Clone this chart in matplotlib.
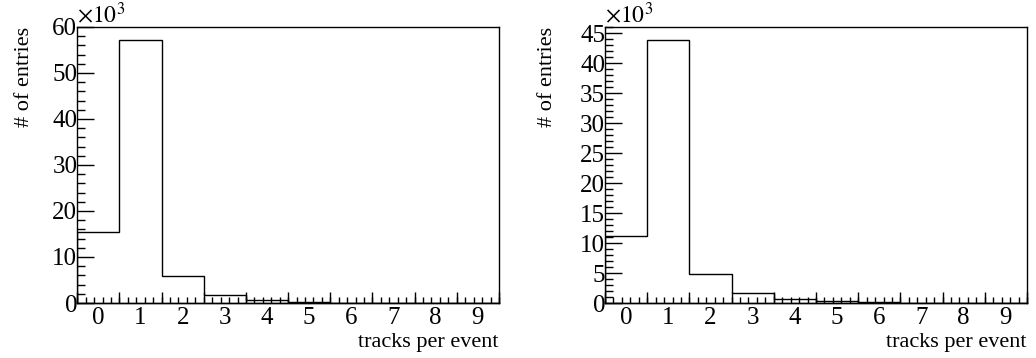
import numpy as np
import matplotlib
matplotlib.use("Agg")
import matplotlib.pyplot as plt
from matplotlib.ticker import FixedLocator, MultipleLocator

plt.rcParams['font.family'] = ['Liberation Serif', 'DejaVu Serif']
plt.rcParams['mathtext.fontset'] = 'stix'

# track multiplicity histograms, bins 0..9
bins = list(range(10))
counts_a = [15500, 57200, 5900, 1800, 700, 300, 90, 30, 10, 4]
counts_b = [11200, 43900, 4800, 1700, 650, 280, 90, 30, 10, 4]
y_major = [10, 5]
y_minor = [2, 1]

TICK_FS = 18
TITLE_FS = 16


def draw_hist(ax, counts, major, minor):
    edges = np.arange(len(bins) + 1) - 0.5
    vals = np.array(counts) / 1000.0
    ax.stairs(vals, edges, color='black', linewidth=1.0, baseline=0)
    ax.set_xlim(edges[0], edges[-1])
    ax.set_ylim(0, vals.max() * 1.05)

    # labels at bin centres, no mark
    ax.xaxis.set_major_locator(FixedLocator(bins))
    ax.xaxis.set_minor_locator(FixedLocator(np.arange(-0.5, 9.51, 0.2)))
    ax.tick_params(axis='x', which='major', length=0, labelsize=TICK_FS, pad=3)
    ax.tick_params(axis='x', which='minor', direction='in', length=4, width=1)

    # long marks on the bin edges
    sec = ax.secondary_xaxis('bottom')
    sec.set_xticks(edges)
    sec.tick_params(direction='in', length=8, width=1, labelbottom=False)
    sec.spines['bottom'].set_linewidth(1)

    ax.yaxis.set_major_locator(MultipleLocator(major))
    ax.yaxis.set_minor_locator(MultipleLocator(minor))
    ax.tick_params(axis='y', which='major', direction='in', length=12, width=1,
                   labelsize=TICK_FS, pad=0)
    ax.tick_params(axis='y', which='minor', direction='in', length=6, width=1)
    for s in ax.spines.values():
        s.set_linewidth(1)

    ax.text(0.0, 0.995, r'$\times10^{3}$', transform=ax.transAxes,
            ha='left', va='bottom', fontsize=17)
    ax.set_xlabel('tracks per event', fontsize=TITLE_FS)
    ax.xaxis.set_label_coords(1.0, -0.11)
    ax.xaxis.label.set_ha('right')
    ax.set_ylabel('# of entries', fontsize=TITLE_FS)
    ax.yaxis.label.set_va('top')
    ax.yaxis.label.set_ha('right')


fig = plt.figure(figsize=(10.36, 3.58), dpi=100)
ax1 = fig.add_axes([0.0746, 0.1536, 0.407, 0.772])
ax2 = fig.add_axes([0.584, 0.1536, 0.4073, 0.772])
draw_hist(ax1, counts_a, y_major[0], y_minor[0])
draw_hist(ax2, counts_b, y_major[1], y_minor[1])
ax1.yaxis.set_label_coords(-0.148, 1.0)
ax2.yaxis.set_label_coords(-0.159, 1.0)

fig.savefig('out.png', dpi=100)
